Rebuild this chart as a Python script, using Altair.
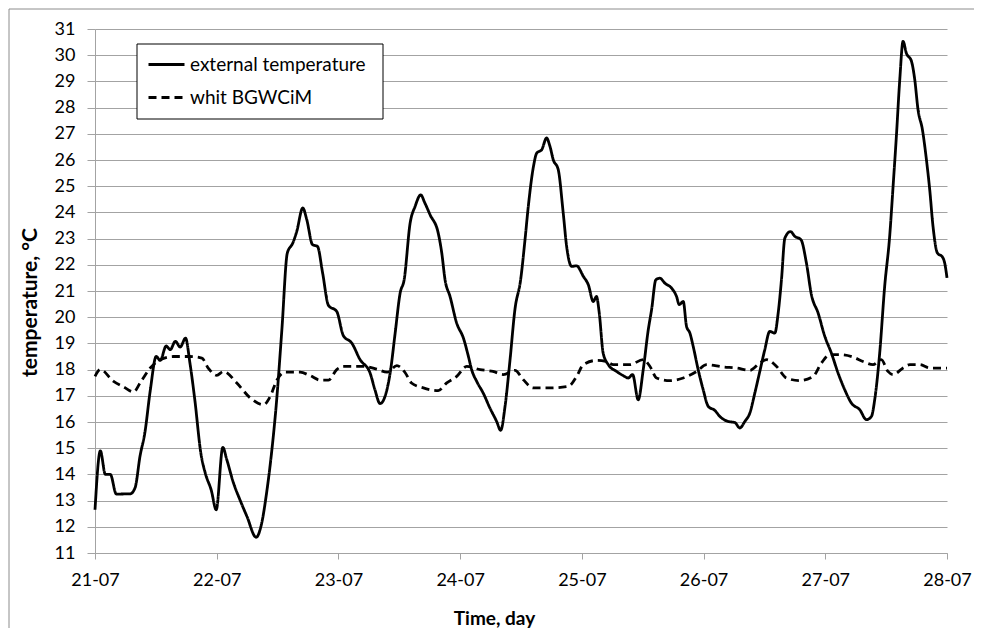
import altair as alt
import pandas as pd

# ---- data ----
TICK_LABELS = ["21-07", "22-07", "23-07", "24-07", "25-07", "26-07", "27-07", "28-07"]
SERIES = ["external temperature", "whit BGWCiM"]

ext_day = [0.0, 0.044, 0.085, 0.126, 0.175, 0.29, 0.33, 0.37, 0.41, 0.454, 0.503, 0.536, 0.585,
           0.618, 0.66, 0.70, 0.744, 0.78, 0.82, 0.87, 0.906, 0.955, 0.996, 1.05, 1.083, 1.138,
           1.19, 1.248, 1.324, 1.37, 1.41, 1.45, 1.49, 1.535, 1.58, 1.625, 1.658, 1.707, 1.74,
           1.787, 1.828, 1.87, 1.918, 1.986, 2.04, 2.11, 2.178, 2.26, 2.30, 2.342, 2.383, 2.425,
           2.466, 2.507, 2.54, 2.589, 2.63, 2.676, 2.71, 2.753, 2.82, 2.849, 2.876, 2.917, 2.972,
           3.027, 3.068, 3.095, 3.136, 3.19, 3.245, 3.3, 3.333, 3.369, 3.41, 3.45, 3.497, 3.533,
           3.56, 3.6, 3.63, 3.67, 3.71, 3.738, 3.765, 3.806, 3.847, 3.875, 3.916, 3.957, 4.012,
           4.053, 4.094, 4.12, 4.143, 4.175, 4.217, 4.285, 4.34, 4.381, 4.417, 4.463, 4.504,
           4.545, 4.573, 4.608, 4.641, 4.682, 4.737, 4.778, 4.8, 4.833, 4.86, 4.888, 4.915,
           4.956, 4.997, 5.038, 5.093, 5.134, 5.203, 5.257, 5.298, 5.339, 5.38, 5.421, 5.462,
           5.503, 5.544, 5.585, 5.613, 5.64, 5.668, 5.714, 5.749, 5.8, 5.845, 5.886, 5.941,
           5.996, 6.05, 6.105, 6.16, 6.215, 6.283, 6.338, 6.379, 6.406, 6.447, 6.488, 6.529,
           6.557, 6.584, 6.612, 6.639, 6.666, 6.708, 6.735, 6.762, 6.798, 6.831, 6.858, 6.885,
           6.921, 6.962, 6.981, 7.0]
ext_temp = [12.65, 14.9, 14.0, 14.0, 13.25, 13.26, 13.5, 14.7, 15.6, 17.2, 18.5, 18.35, 18.9,
            18.76, 19.08, 18.86, 19.2, 18.25, 16.85, 14.8, 14.05, 13.4, 12.65, 15.03, 14.56, 13.67,
            13.04, 12.4, 11.6, 12.15, 13.3, 14.8, 16.7, 19.5, 22.45, 22.83, 23.28, 24.17, 23.72,
            22.77, 22.7, 21.69, 20.45, 20.22, 19.3, 19.01, 18.38, 17.87, 17.23, 16.70, 16.98, 17.87,
            19.39, 20.92, 21.43, 23.59, 24.23, 24.67, 24.36, 23.91, 23.21, 22.45, 21.43, 20.79, 19.77,
            19.2, 18.5, 17.99, 17.55, 17.1, 16.53, 16.02, 15.68, 16.6, 18.38, 20.29, 21.43, 22.96,
            24.23, 25.69, 26.27, 26.39, 26.84, 26.52, 26.01, 25.63, 23.97, 22.70, 21.94, 21.96, 21.56,
            21.24, 20.6, 20.79, 20.16, 18.63, 18.19, 17.93, 17.77, 17.68, 17.81, 16.85, 17.99,
            19.5, 20.29, 21.43, 21.49, 21.3, 21.11, 20.79, 20.48, 20.6, 19.65, 19.39, 18.88,
            17.99, 17.23, 16.6, 16.44, 16.21, 16.02, 15.98, 15.77, 16.02, 16.34, 17.1, 17.93,
            18.76, 19.46, 19.39, 20.16, 21.43, 23.02, 23.27, 23.09, 22.96, 22.07, 20.86, 20.16,
            19.27, 18.63, 17.87, 17.23, 16.72, 16.47, 16.09, 16.21, 16.85, 18.63, 21.18, 23.09,
            24.99, 26.9, 29.07, 30.53, 30.08, 29.77, 29.07, 27.92, 27.16, 26.01, 24.87, 23.47,
            22.45, 22.3, 22.07, 21.5]

bgw_day = [0.0, 0.044, 0.153, 0.235, 0.317, 0.372, 0.454, 0.536, 0.646, 0.78, 0.878, 0.93, 1.0,
           1.056, 1.165, 1.275, 1.384, 1.44, 1.494, 1.56, 1.685, 1.767, 1.85, 1.918, 1.986, 2.04,
           2.21, 2.315, 2.4, 2.48, 2.55, 2.6, 2.698, 2.82, 2.89, 2.972, 3.054, 3.164, 3.27, 3.355,
           3.45, 3.52, 3.6, 3.738, 3.89, 3.957, 4.012, 4.12, 4.2, 4.258, 4.395, 4.504, 4.56,
           4.614, 4.723, 4.833, 4.943, 5.025, 5.162, 5.27, 5.38, 5.462, 5.517, 5.6, 5.68, 5.79,
           5.9, 5.968, 6.037, 6.118, 6.228, 6.31, 6.392, 6.46, 6.515, 6.557, 6.639, 6.694, 6.776,
           6.858, 6.968, 7.0]
bgw_temp = [17.74, 18.0, 17.55, 17.34, 17.15, 17.5, 18.06, 18.38, 18.5, 18.5, 18.44, 18.06, 17.78,
            17.93, 17.49, 16.92, 16.66, 16.98, 17.6, 17.9, 17.9, 17.77, 17.6, 17.6, 18.0, 18.12,
            18.12, 18.02, 17.9, 18.15, 17.87, 17.49, 17.3, 17.2, 17.49, 17.74, 18.12, 18.0, 17.93, 17.81,
            17.97, 17.61, 17.3, 17.3, 17.36, 17.74, 18.19, 18.35, 18.31, 18.19, 18.19, 18.38, 18.12,
            17.68, 17.58, 17.68, 17.93, 18.19, 18.1, 18.06, 17.97, 18.25, 18.38, 18.12, 17.68, 17.58,
            17.74, 18.25, 18.57, 18.57, 18.48, 18.31, 18.19, 18.38, 17.93, 17.81, 18.06, 18.19, 18.19,
            18.06, 18.06, 18.06]

Y_MIN, Y_MAX = 11, 31

df = pd.concat([
    pd.DataFrame({"day": ext_day, "temp": ext_temp, "series": SERIES[0]}),
    pd.DataFrame({"day": bgw_day, "temp": bgw_temp, "series": SERIES[1]}),
], ignore_index=True)

label_expr = "[" + ",".join(f"'{t}'" for t in TICK_LABELS) + "][round(datum.value)]"

FONT = "Lato"
GRID = "#a3a3a3"

lines = alt.Chart(df).mark_line(interpolate="monotone", strokeWidth=2.8, color="black").encode(
    x=alt.X("day:Q",
            scale=alt.Scale(domain=[0, len(TICK_LABELS) - 1], nice=False, zero=False),
            axis=alt.Axis(values=list(range(len(TICK_LABELS))), labelExpr=label_expr,
                          grid=False, tickSize=6, tickColor=GRID, domainColor=GRID,
                          labelFontSize=18, labelColor="black", labelPadding=12,
                          labelFlush=False,
                          title="Time, day", titleFontSize=19, titleFontWeight="bold",
                          titleColor="black", titleX=399, titleY=71,
                          titleAlign="center", titleBaseline="alphabetic")),
    y=alt.Y("temp:Q",
            scale=alt.Scale(domain=[Y_MIN, Y_MAX], nice=False, zero=False),
            axis=alt.Axis(values=list(range(Y_MIN, Y_MAX + 1)), grid=True, gridColor=GRID,
                          gridWidth=1, tickSize=8, tickColor=GRID, domainColor=GRID,
                          labelFontSize=18, labelColor="black", labelPadding=12,
                          title="temperature, °C", titleFontSize=21, titleFontWeight="bold",
                          titleColor="black", titlePadding=14, titleY=273)),
    strokeDash=alt.StrokeDash("series:N",
                              scale=alt.Scale(domain=SERIES, range=[[1, 0], [8, 5]]),
                              legend=alt.Legend(orient="none", legendX=52, legendY=16,
                                                direction="vertical", title=None,
                                                padding=0, symbolType="stroke",
                                                symbolSize=1296, symbolStrokeWidth=3,
                                                symbolStrokeColor="black",
                                                labelFontSize=19, labelFont=FONT,
                                                labelColor="black", labelOffset=4,
                                                labelLimit=400, rowPadding=3)),
    order="day:Q",
)

one = pd.DataFrame({"k": [0]})
legend_box = alt.Chart(one).mark_rect(fill="white", stroke="black", strokeWidth=1).encode(
    x=alt.value(42), x2=alt.value(288), y=alt.value(15), y2=alt.value(90))
left_border = alt.Chart(one).mark_rule(color="#8c8c8c", strokeWidth=1).encode(
    x=alt.value(-86), y=alt.value(-20), y2=alt.value(640))
top_border = alt.Chart(one).mark_rule(color="#8c8c8c", strokeWidth=1).encode(
    x=alt.value(-86), x2=alt.value(900), y=alt.value(-20))

chart = alt.layer(legend_box, lines, left_border, top_border).properties(
    width=852, height=524,
    autosize=alt.AutoSizeParams(type="none"),
    padding={"left": 87, "top": 21, "right": 27, "bottom": 75},
).configure(font=FONT).configure_view(stroke=None)

chart.save("out.html", embed_options={"renderer": "svg", "actions": False})
